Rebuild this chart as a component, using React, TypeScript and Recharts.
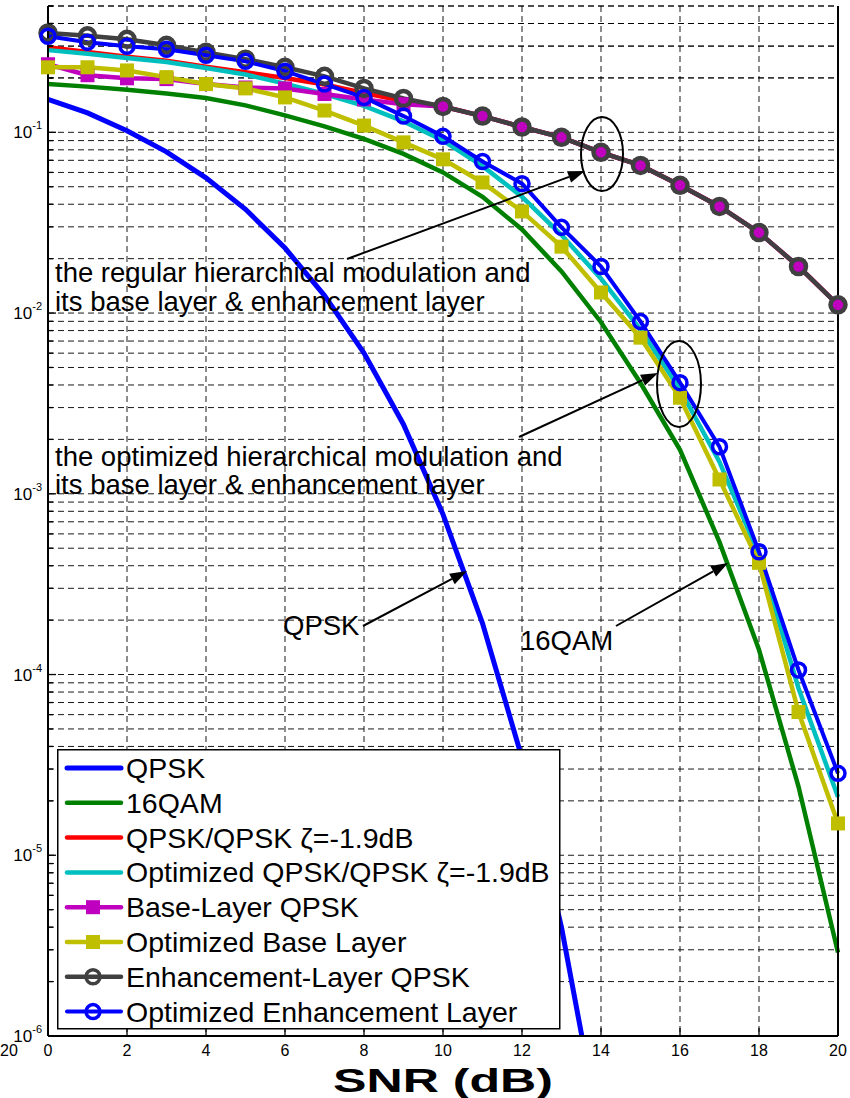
import React from 'react';
import { LineChart, Line, XAxis, YAxis, CartesianGrid, Legend, Label } from 'recharts';

// SNR in dB
const snr = [0, 1, 2, 3, 4, 5, 6, 7, 8, 9, 10, 11, 12, 13, 14, 15, 16, 17, 18, 19, 20];

// BER curves
const qpsk = [0.152, 0.128, 0.102, 0.078, 0.056, 0.0375, 0.0229, 0.0125, 0.006, 0.00242, 0.00077, 0.000192, 0.0000345, 0.000004, 0.00000027];
const qam16 = [0.185, 0.179, 0.172, 0.164, 0.155, 0.141, 0.124, 0.108, 0.092, 0.076, 0.06, 0.044, 0.029, 0.017, 0.0089, 0.0041, 0.00175, 0.00054, 0.000137, 0.000024, 0.0000029];
const hierQpsk = [0.296, 0.278, 0.262, 0.249, 0.231, 0.215, 0.2, 0.184, 0.165, 0.149, 0.139, 0.123, 0.107, 0.0938, 0.0775, 0.0656, 0.0509, 0.0389, 0.0279, 0.0181, 0.0111];
const optHierQpsk = [0.285, 0.272, 0.258, 0.245, 0.227, 0.209, 0.186, 0.163, 0.14, 0.115, 0.09, 0.065, 0.044, 0.027, 0.0155, 0.0081, 0.00378, 0.0015, 0.00046, 0.000084, 0.000021];
const baseLayer = [0.238, 0.207, 0.199, 0.197, 0.185, 0.177, 0.175, 0.163, 0.152, 0.143, 0.139, 0.123, 0.107, 0.0938, 0.0775, 0.0656, 0.0509, 0.0389, 0.0279, 0.0181, 0.0111];
const optBaseLayer = [0.229, 0.229, 0.22, 0.202, 0.185, 0.175, 0.156, 0.132, 0.109, 0.088, 0.0709, 0.0528, 0.0365, 0.0233, 0.013, 0.00731, 0.0034, 0.0012, 0.000415, 0.000062, 0.000015];
const enhLayer = [0.355, 0.342, 0.327, 0.303, 0.277, 0.254, 0.229, 0.204, 0.175, 0.154, 0.139, 0.123, 0.107, 0.0938, 0.0775, 0.0656, 0.0509, 0.0389, 0.0279, 0.0181, 0.0111];
const optEnhLayer = [0.34, 0.315, 0.299, 0.288, 0.267, 0.247, 0.218, 0.185, 0.156, 0.123, 0.095, 0.069, 0.052, 0.0298, 0.0181, 0.00897, 0.00412, 0.00182, 0.000478, 0.000106, 0.0000284];

const seriesNames = [
  'QPSK',
  '16QAM',
  'QPSK/QPSK \u03B6=-1.9dB',
  'Optimized QPSK/QPSK \u03B6=-1.9dB',
  'Base-Layer QPSK',
  'Optimized Base Layer',
  'Enhancement-Layer QPSK',
  'Optimized Enhancement Layer',
];

const xTicks = [0, 2, 4, 6, 8, 10, 12, 14, 16, 18, 20];
const yDecades = [-6, -5, -4, -3, -2, -1];
const yTicks = [
  ...yDecades.flatMap((e) => [1, 2, 3, 4, 5, 6, 7, 8, 9].map((m) => m * Math.pow(10, e))),
  0.2, 0.3, 0.4, 0.5,
].filter((v) => v <= 0.5);

const data = snr.map((x, i) => ({
  snr: x,
  qpsk: qpsk[i],
  qam16: qam16[i],
  hierQpsk: hierQpsk[i],
  optHierQpsk: optHierQpsk[i],
  baseLayer: baseLayer[i],
  optBaseLayer: optBaseLayer[i],
  enhLayer: enhLayer[i],
  optEnhLayer: optEnhLayer[i],
}));

const FONT = '"Liberation Sans", Arial, Helvetica, sans-serif';

const styles = [
  { key: 'qpsk', color: '#0000ff', width: 5, marker: 'none' },
  { key: 'qam16', color: '#008000', width: 4.5, marker: 'none' },
  { key: 'hierQpsk', color: '#ff0000', width: 4.5, marker: 'none' },
  { key: 'optHierQpsk', color: '#00bfbf', width: 4.5, marker: 'none' },
  { key: 'baseLayer', color: '#bf00bf', width: 4.5, marker: 'square' },
  { key: 'optBaseLayer', color: '#bfbf00', width: 4.5, marker: 'square' },
  { key: 'enhLayer', color: '#404040', width: 4.5, marker: 'circle' },
  { key: 'optEnhLayer', color: '#0000ff', width: 4, marker: 'circle' },
];

const isDecade = (v: number) => {
  const l = Math.log10(v);
  return Math.abs(l - Math.round(l)) < 1e-6 && v < 0.5;
};

const LeftTick = (props: any) => {
  const { x, y, payload } = props;
  const v = payload.value;
  const major = isDecade(v);
  return (
    <g>
      <line x1={x} y1={y} x2={x + (major ? 8 : 5)} y2={y} stroke="#000" strokeWidth={1.3} />
      {major && (
        <text x={x - 6} y={y + 6} textAnchor="end" fontSize={17} fontFamily={FONT} fill="#000">
          10<tspan dy={-9} fontSize={11}>{Math.round(Math.log10(v))}</tspan>
        </text>
      )}
    </g>
  );
};

const RightTick = (props: any) => {
  const { x, y, payload } = props;
  const major = isDecade(payload.value);
  return <line x1={x} y1={y} x2={x - (major ? 8 : 5)} y2={y} stroke="#000" strokeWidth={1.3} />;
};

// right edge of the neighbouring subplot, visible at the far left
const NeighbourTick = (props: any) => {
  const { x, y, payload } = props;
  const major = isDecade(payload.value);
  return <line x1={x} y1={y} x2={x - (major ? 8 : 6)} y2={y} stroke="#000" strokeWidth={1.3} />;
};

const BottomTick = (props: any) => {
  const { x, y, payload } = props;
  return (
    <g>
      <line x1={x} y1={y} x2={x} y2={y - 8} stroke="#000" strokeWidth={1.3} />
      <text x={x} y={y + 20} textAnchor="middle" fontSize={16} fontFamily={FONT} fill="#000">
        {payload.value}
      </text>
    </g>
  );
};

const TopTick = (props: any) => {
  const { x, y } = props;
  return <line x1={x} y1={y} x2={x} y2={y + 8} stroke="#000" strokeWidth={1.3} />;
};

const squareDot = (color: string) => (p: any) => (
  <rect key={`sq-${color}-${p.index}`} x={p.cx - 6} y={p.cy - 6} width={12} height={12} fill={color} stroke={color} strokeWidth={2} />
);

const circleDot = (color: string, r: number, sw: number) => (p: any) => (
  <circle key={`ci-${color}-${p.index}`} cx={p.cx} cy={p.cy} r={r} fill="none" stroke={color} strokeWidth={sw} />
);

const LegendBox = () => (
  <svg width={504} height={281}>
    <rect x={0.75} y={0.75} width={502} height={279} fill="#fff" stroke="#000" strokeWidth={1.5} />
    {styles.map((s, i) => {
      const cy = 19 + i * 34.8;
      return (
        <g key={s.key}>
          <line x1={10} y1={cy} x2={64} y2={cy} stroke={s.color} strokeWidth={s.width} strokeLinecap="round" />
          {s.marker === 'square' && <rect x={30} y={cy - 6} width={12} height={12} fill={s.color} stroke={s.color} strokeWidth={2} />}
          {s.marker === 'circle' && <circle cx={36} cy={cy} r={7} fill="none" stroke={s.color} strokeWidth={3.5} />}
          <text x={69} y={cy + 10} fontSize={28.5} fontFamily={FONT} fill="#000">
            {seriesNames[i]}
          </text>
        </g>
      );
    })}
  </svg>
);

const Arrow = ({ x1, y1, x2, y2 }: { x1: number; y1: number; x2: number; y2: number }) => {
  const a = Math.atan2(y2 - y1, x2 - x1);
  const len = 17;
  const hw = 6;
  const bx = x2 - len * Math.cos(a);
  const by = y2 - len * Math.sin(a);
  const pts = [
    [x2, y2],
    [bx - hw * Math.sin(a), by + hw * Math.cos(a)],
    [bx + hw * Math.sin(a), by - hw * Math.cos(a)],
  ]
    .map((p) => p.join(','))
    .join(' ');
  return (
    <g>
      <line x1={x1} y1={y1} x2={bx} y2={by} stroke="#000" strokeWidth={2} />
      <polygon points={pts} fill="#000" />
    </g>
  );
};

const annText = { fontSize: 27.5, fontFamily: FONT, fill: '#000' };

export default function App() {
  return (
    <div style={{ position: 'absolute', left: 0, top: 0, width: 850, height: 1098, background: '#fff' }}>
      <LineChart width={850} height={1098} data={data} margin={{ top: 6, right: 0, bottom: 0, left: 0 }}>
        <CartesianGrid stroke="#000" strokeOpacity={0.9} strokeDasharray="6 4" strokeWidth={1} />
        <XAxis
          dataKey="snr"
          type="number"
          domain={[0, 20]}
          ticks={xTicks}
          interval={0}
          height={62}
          tickSize={0}
          tickMargin={0}
          tick={BottomTick}
          axisLine={{ stroke: '#000', strokeWidth: 2 }}
        >
          <Label
            content={(p: any) => {
              const vb = p.viewBox;
              return (
                <text
                  x={vb.x + vb.width / 2}
                  y={vb.y + vb.height - 6}
                  textAnchor="middle"
                  fontSize={33}
                  fontWeight="bold"
                  fontFamily={FONT}
                  fill="#000"
                  textLength={220}
                  lengthAdjust="spacingAndGlyphs"
                >
                  SNR (dB)
                </text>
              );
            }}
          />
        </XAxis>
        <XAxis
          xAxisId="top"
          orientation="top"
          dataKey="snr"
          type="number"
          domain={[0, 20]}
          ticks={xTicks}
          interval={0}
          height={0}
          tickSize={0}
          tickMargin={0}
          tick={TopTick}
          axisLine={{ stroke: '#000', strokeWidth: 2 }}
        />
        <YAxis
          scale="log"
          type="number"
          domain={[1e-6, 0.5]}
          ticks={yTicks}
          interval={0}
          width={40}
          tickSize={0}
          tickMargin={0}
          tick={LeftTick}
          axisLine={{ stroke: '#000', strokeWidth: 2 }}
        />
        <YAxis
          yAxisId="nb"
          scale="log"
          type="number"
          domain={[1e-6, 0.5]}
          ticks={yTicks}
          interval={0}
          width={8}
          tickSize={0}
          tickMargin={0}
          tick={NeighbourTick}
          axisLine={{ stroke: '#000', strokeWidth: 2 }}
        />
        <YAxis
          yAxisId="right"
          orientation="right"
          scale="log"
          type="number"
          domain={[1e-6, 0.5]}
          ticks={yTicks}
          interval={0}
          width={12}
          tickSize={0}
          tickMargin={0}
          tick={RightTick}
          axisLine={{ stroke: '#000', strokeWidth: 2 }}
        />
        <YAxis yAxisId="clip" hide scale="log" type="number" domain={[1e-6, 0.5]} allowDataOverflow />
        <Legend layout="horizontal" verticalAlign="middle" align="center" content={LegendBox} wrapperStyle={{ left: 57, top: 749, width: 504, height: 281 }} />

        <Line yAxisId="clip" dataKey="qpsk" stroke="#0000ff" strokeWidth={5} dot={false} isAnimationActive={false} />
        <Line dataKey="qam16" stroke="#008000" strokeWidth={4.5} dot={false} isAnimationActive={false} />
        <Line dataKey="hierQpsk" stroke="#ff0000" strokeWidth={4.5} dot={false} isAnimationActive={false} />
        <Line dataKey="optHierQpsk" stroke="#00bfbf" strokeWidth={4.5} dot={false} isAnimationActive={false} />
        <Line dataKey="baseLayer" stroke="#bf00bf" strokeWidth={4.5} dot={squareDot('#bf00bf')} isAnimationActive={false} />
        <Line dataKey="optBaseLayer" stroke="#bfbf00" strokeWidth={4.5} dot={squareDot('#bfbf00')} isAnimationActive={false} />
        <Line dataKey="enhLayer" stroke="#404040" strokeWidth={4.5} dot={circleDot('#404040', 7.5, 4.5)} isAnimationActive={false} />
        <Line dataKey="optEnhLayer" stroke="#0000ff" strokeWidth={4} dot={circleDot('#0000ff', 7, 3.5)} isAnimationActive={false} />
      </LineChart>

      <svg width={850} height={1098} style={{ position: 'absolute', left: 0, top: 0, pointerEvents: 'none' }}>
        <ellipse cx={602} cy={154} rx={21} ry={37} fill="none" stroke="#000" strokeWidth={2} />
        <ellipse cx={679} cy={384} rx={22} ry={43} fill="none" stroke="#000" strokeWidth={2} />
        <Arrow x1={347} y1={259} x2={585} y2={171} />
        <Arrow x1={519} y1={437} x2={658} y2={373} />
        <Arrow x1={363} y1={626} x2={467} y2={571} />
        <Arrow x1={616} y1={626} x2={728} y2={563} />
        <text x={55} y={282} {...annText}>the regular hierarchical modulation and</text>
        <text x={55} y={311} {...annText}>its base layer &amp; enhancement layer</text>
        <text x={55} y={466} {...annText}>the optimized hierarchical modulation and</text>
        <text x={55} y={494} {...annText}>its base layer &amp; enhancement layer</text>
        <text x={283} y={635} {...annText}>QPSK</text>
        <text x={520} y={650} {...annText}>16QAM</text>
        <text x={0} y={1056} fontSize={16} fontFamily={FONT} fill="#000">20</text>
      </svg>
    </div>
  );
}
